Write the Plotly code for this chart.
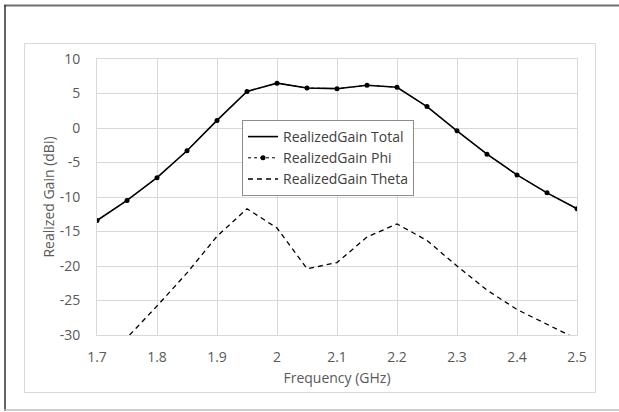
import plotly.graph_objects as go

freq = [1.7, 1.75, 1.8, 1.85, 1.9, 1.95, 2.0, 2.05, 2.1, 2.15, 2.2, 2.25, 2.3, 2.35, 2.4, 2.45, 2.5]
gain_total = [-13.4, -10.5, -7.2, -3.3, 1.1, 5.3, 6.5, 5.8, 5.7, 6.2, 5.9, 3.1, -0.4, -3.8, -6.8, -9.4, -11.7]
gain_phi = [-13.4, -10.5, -7.2, -3.3, 1.1, 5.3, 6.5, 5.8, 5.7, 6.2, 5.9, 3.1, -0.4, -3.8, -6.8, -9.4, -11.7]
gain_theta = [-34.5, -30.4, -25.8, -21.0, -15.7, -11.7, -14.5, -20.4, -19.5, -15.8, -13.9, -16.3, -20.0, -23.5, -26.3, -28.5, -30.6]

x_ticks = [1.7, 1.8, 1.9, 2.0, 2.1, 2.2, 2.3, 2.4, 2.5]
x_ticktext = ["1.7", "1.8", "1.9", "2", "2.1", "2.2", "2.3", "2.4", "2.5"]
y_ticks = [-30, -25, -20, -15, -10, -5, 0, 5, 10]
y_ticktext = ["-30", "-25", "-20", "-15", "-10", "-5", "0", "5", "10"]

FONT = "Open Sans"
fig = go.Figure()
fig.add_trace(go.Scatter(x=freq, y=gain_total, mode="lines", name="RealizedGain Total",
                         line=dict(color="black", width=1.6)))
fig.add_trace(go.Scatter(x=freq, y=gain_phi, mode="lines+markers", name="RealizedGain Phi",
                         line=dict(color="black", width=1, dash="dot"),
                         marker=dict(color="black", size=5, symbol="circle")))
fig.add_trace(go.Scatter(x=freq, y=gain_theta, mode="lines", name="RealizedGain Theta",
                         line=dict(color="black", width=1.3, dash="5px,4px")))

L, R, T, B = 97, 577, 59, 335
W, H = 619, 412
pw, ph = R - L, B - T

def px_x(p):
    return (p - L) / pw

def px_y(p):
    return (B - p) / ph

shapes = [
    # inner chart-area border
    dict(type="rect", xref="paper", yref="paper", x0=px_x(24.5), x1=px_x(595.5), y0=px_y(392.5), y1=px_y(43.5),
         line=dict(color="#d9d9d9", width=1), layer="below"),
    # outer frame
    dict(type="line", xref="paper", yref="paper", x0=px_x(4), x1=px_x(619), y0=px_y(5.5), y1=px_y(5.5),
         line=dict(color="#6e6e6e", width=2)),
    dict(type="line", xref="paper", yref="paper", x0=px_x(5), x1=px_x(5), y0=px_y(5), y1=px_y(411),
         line=dict(color="#303030", width=1.5)),
    dict(type="line", xref="paper", yref="paper", x0=px_x(4), x1=px_x(619), y0=px_y(410), y1=px_y(410),
         line=dict(color="#bdbdbd", width=1.5)),
]

fig.update_layout(
    width=W, height=H,
    margin=dict(l=L, r=W - R, t=T, b=H - B),
    paper_bgcolor="white", plot_bgcolor="white",
    font=dict(family=FONT, color="#595959", size=14),
    showlegend=True,
    legend=dict(x=px_x(242), y=px_y(120), xanchor="left", yanchor="top",
                bgcolor="white", bordercolor="#8c8c8c", borderwidth=1,
                font=dict(family=FONT, size=14, color="#404040"),
                tracegroupgap=0, itemwidth=30),
    shapes=shapes,
    xaxis=dict(range=[1.7, 2.5], tickvals=x_ticks, ticktext=x_ticktext,
               showgrid=True, gridcolor="#d9d9d9", gridwidth=1,
               showline=True, linecolor="#d9d9d9", mirror=True, zeroline=False,
               ticks="outside", ticklen=9, tickcolor="rgba(0,0,0,0)",
               tickfont=dict(size=14, color="#595959"),
               title=dict(text="Frequency (GHz)", font=dict(size=14, color="#595959"), standoff=8)),
    yaxis=dict(range=[-30, 10], tickvals=y_ticks, ticktext=y_ticktext,
               showgrid=True, gridcolor="#d9d9d9", gridwidth=1,
               showline=True, linecolor="#d9d9d9", mirror=True, zeroline=False,
               ticks="outside", ticklen=13, tickcolor="rgba(0,0,0,0)",
               tickfont=dict(size=14, color="#595959"),
               title=dict(text="Realized Gain (dBi)", font=dict(size=14, color="#595959"), standoff=1)),
)

fig.write_html("out.html")
